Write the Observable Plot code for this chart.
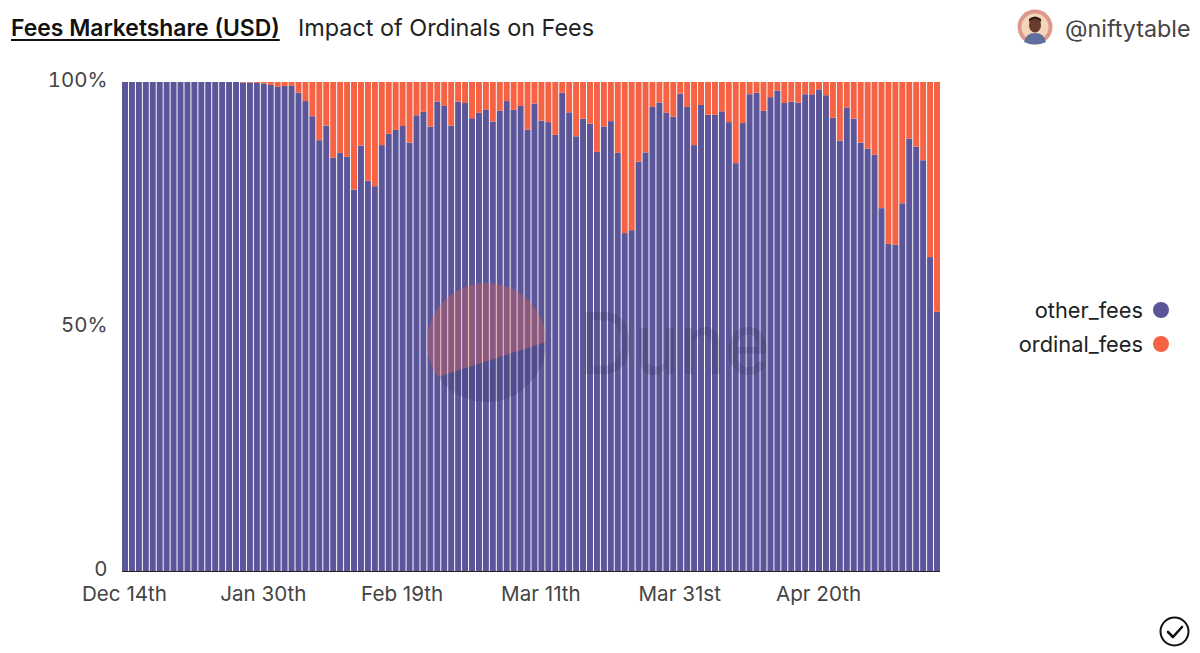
<!DOCTYPE html>
<html>
<head>
<meta charset="utf-8">
<script src="https://cdn.jsdelivr.net/npm/d3@7"></script>
<script src="https://cdn.jsdelivr.net/npm/@observablehq/plot@0.6"></script>
<style>
  html, body { margin: 0; padding: 0; background: #fff; overflow: hidden; }
  body { width: 1200px; height: 653px; position: relative; font-family: Inter, "Open Sans", sans-serif; }
  #header { height: 60px; position: relative; }
  .abs { position: absolute; white-space: nowrap; }
  #title { left: 11px; top: 13px; font-size: 22.9px; font-weight: 600; color: #111; text-decoration: underline; text-underline-offset: 3px; line-height: 30px; }
  #subtitle { left: 298px; top: 13px; font-size: 23.4px; color: #222; line-height: 30px; }
  #handle { left: 1065px; top: 14px; font-size: 23.3px; color: #444; line-height: 30px; }
  .lg { right: 57px; font-size: 21.8px; color: #222; line-height: 26px; }
  .dot { width: 16px; height: 16px; border-radius: 50%; left: 1153px; }
  #chart svg { display: block; }
  #overlay { position: absolute; left: 0; top: 0; pointer-events: none; }
</style>
</head>
<body>
<div id="header">
  <div class="abs" id="title">Fees Marketshare (USD)</div>
  <div class="abs" id="subtitle">Impact of Ordinals on Fees</div>
  <div class="abs" id="handle">@niftytable</div>
</div>
<div id="chart"></div>
<div class="abs lg" style="top:297px">other_fees</div>
<div class="abs dot" style="top:302px;background:#5b5599"></div>
<div class="abs lg" style="top:331px">ordinal_fees</div>
<div class="abs dot" style="top:336px;background:#f56344"></div>
<svg id="overlay" width="1200" height="653" viewBox="0 0 1200 653">
  <!-- avatar -->
  <circle cx="1035" cy="27" r="17.5" fill="#dd9a8c"/>
  <circle cx="1035" cy="27" r="13.5" fill="#f3d6b8"/>
  <path d="M1024 42 q2 -9 11 -9 q9 0 11 9 q-11 5 -22 0z" fill="#5f6f9c"/>
  <ellipse cx="1035" cy="25" rx="6" ry="7.5" fill="#6a3a2a"/>
  <path d="M1029 22 q6 -7 12 0 l0 -3 q-6 -5 -12 0z" fill="#2a1a16"/>
  <!-- check badge -->
  <circle cx="1174.5" cy="631.5" r="14" fill="none" stroke="#111" stroke-width="2"/>
  <path d="M1168 632 l5 5 l9 -10" fill="none" stroke="#111" stroke-width="2.6" stroke-linecap="round" stroke-linejoin="round"/>
  <!-- Dune watermark -->
  <path d="M546 342 A59.5 59.5 0 1 0 438 377 Z" fill="#f56344" opacity="0.3"/>
  <path d="M546 342 A59.5 59.5 0 0 1 438 377 Z" fill="#2c2c66" opacity="0.22"/>
  <text x="579" y="374" font-family="Inter, sans-serif" font-size="85" font-weight="500" fill="#2a2a44" opacity="0.17" textLength="191" lengthAdjust="spacingAndGlyphs">Dune</text>
</svg>
<script>
const otherFees = [
  100,100,100,100,100,100,100,100,100,100,100,100,100,100,100,100,100,
  99.9,99.9,99.8,99.7,99.4,99.0,99.2,99.2,97.8,96.1,93.0,88.1,91.1,84.5,85.5,84.7,
  78.0,87.0,79.8,78.7,87.1,89.4,90.2,91.0,87.6,93.2,93.9,90.9,96.0,95.1,91.1,96.0,95.7,
  92.6,93.7,94.3,91.9,94.1,96.1,94.3,95.1,90.3,95.6,92.1,91.8,89.2,97.8,93.8,88.9,92.5,
  91.5,85.7,90.9,92.0,85.5,69.1,69.7,83.7,85.6,94.9,95.8,93.7,92.9,97.6,94.9,87.1,95.3,
  93.3,93.3,94.0,91.8,83.4,91.6,97.5,97.8,94.1,96.9,98.2,95.7,96.0,95.8,97.5,97.5,98.5,
  97.3,92.7,88.0,94.8,92.5,87.6,86.4,85.1,74.2,66.9,66.7,75.2,88.4,86.8,84.0,64.2,53.0
];
const ordinalFees = [
  0,0,0,0,0,0,0,0,0,0,0,0,0,0,0,0,0,
  0.1,0.1,0.2,0.3,0.6,1.0,0.8,0.8,2.2,3.9,7.0,11.9,8.9,15.5,14.5,15.3,
  22.0,13.0,20.2,21.3,12.9,10.6,9.8,9.0,12.4,6.8,6.1,9.1,4.0,4.9,8.9,4.0,4.3,
  7.4,6.3,5.7,8.1,5.9,3.9,5.7,4.9,9.7,4.4,7.9,8.2,10.8,2.2,6.2,11.1,7.5,
  8.5,14.3,9.1,8.0,14.5,30.9,30.3,16.3,14.4,5.1,4.2,6.3,7.1,2.4,5.1,12.9,4.7,
  6.7,6.7,6.0,8.2,16.6,8.4,2.5,2.2,5.9,3.1,1.8,4.3,4.0,4.2,2.5,2.5,1.5,
  2.7,7.3,12.0,5.2,7.5,12.4,13.6,14.9,25.8,33.1,33.3,24.8,11.6,13.2,16.0,35.8,47.0
];
const seriesNames = ["other_fees", "ordinal_fees"];
const seriesColors = ["#5b5599", "#f56344"];
const tickPositions = [0, 20, 40, 60, 80, 100];
const tickLabels = ["Dec 14th", "Jan 30th", "Feb 19th", "Mar 11th", "Mar 31st", "Apr 20th"];
const yTicks = [0, 50, 100];

const rows = [];
otherFees.forEach((v, i) => rows.push({i, series: seriesNames[0], value: v}));
ordinalFees.forEach((v, i) => rows.push({i, series: seriesNames[1], value: v}));

const plot = Plot.plot({
  width: 1200,
  height: 593,
  marginTop: 22,
  marginBottom: 82,
  marginLeft: 122,
  marginRight: 260,
  style: {background: "#fff", fontFamily: "Inter, 'Open Sans', sans-serif", fontSize: "20px"},
  x: {type: "band", domain: otherFees.map((_, i) => i), paddingInner: 0.14, paddingOuter: 0, round: false, label: null},
  y: {domain: [0, 100], label: null},
  color: {domain: seriesNames, range: seriesColors},
  marks: [
    Plot.barY(rows, {x: "i", y: "value", fill: "series", order: seriesNames}),
    Plot.ruleY([0], {stroke: "#222", strokeWidth: 1.2}),
    Plot.axisY({ticks: yTicks, tickSize: 0, tickPadding: 15, dy: -2, fill: "#444", label: null, fontSize: 20.4,
      tickFormat: d => d === 0 ? "0" : d + "%"}),
    Plot.axisX({ticks: tickPositions, tickSize: 0, tickPadding: 15, dx: -1, fill: "#444", label: null, fontSize: 20.6,
      tickFormat: d => tickLabels[tickPositions.indexOf(d)]})
  ]
});
document.getElementById("chart").appendChild(plot);
</script>
</body>
</html>
